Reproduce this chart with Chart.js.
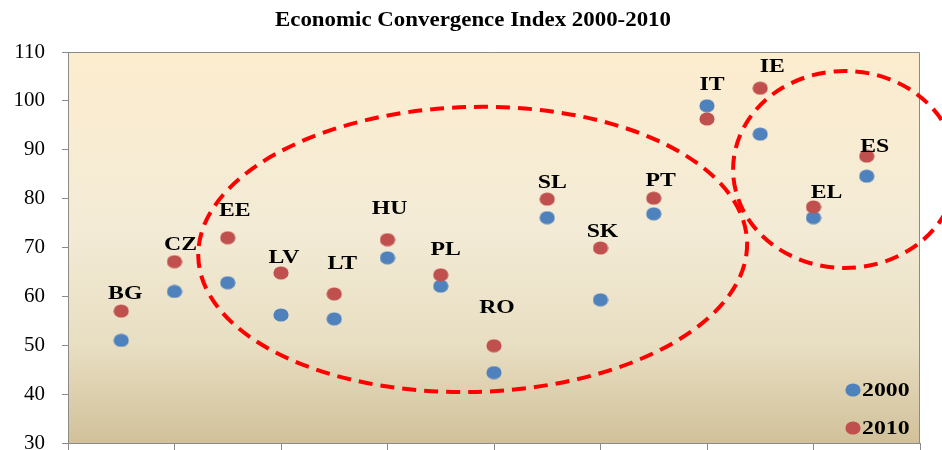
<!DOCTYPE html>
<html>
<head>
<meta charset="utf-8">
<script src="https://cdn.jsdelivr.net/npm/chart.js@4"></script>
<style>
  html, body { margin: 0; padding: 0; background: #fff; }
</style>
</head>
<body>
<canvas id="chart" width="942" height="450"></canvas>
<script>
/* ---------- DATA ---------- */
const countries  = ['BG', 'CZ', 'EE', 'LV', 'LT', 'HU', 'PL', 'RO', 'SL', 'SK', 'PT', 'IT', 'IE', 'EL', 'ES'];
const values2000 = [51.0, 61.0, 62.8, 56.2, 55.4, 67.9, 62.1, 44.4, 76.1, 59.3, 76.9, 99.0, 93.2, 76.1, 84.6];
const values2010 = [57.0, 67.1, 72.0, 64.8, 60.5, 71.6, 64.4, 49.9, 79.9, 69.9, 80.1, 96.3, 102.6, 78.3, 88.7];
const yTicks     = [30, 40, 50, 60, 70, 80, 90, 100, 110];
const seriesNames = ['2000', '2010'];
const chartTitle = 'Economic Convergence Index 2000-2010';

/* ---------- STYLE ---------- */
const BLUE = '#4F81BD';
const RED  = '#C0504D';
const AXIS = '#8a8a8a';
const SERIF = "'Liberation Serif', 'Times New Roman', serif";

// label nudges (px) relative to the 2010 marker
const labelShift = [
  [4, -17], [6, -17], [7, -27], [3, -15], [8, -30], [2, -31], [5, -25], [3, -38],
  [5, -16], [2, -16], [7, -17], [5, -34], [12, -21], [13, -14], [8, -9]
];

// dashed rings, in data units: cx, cy, rx, ry, rotation
const rings = [
  { cx: 7.6, cy: 69.6, rx: 5.155, ry: 29.16, rot: -1.5 },
  { cx: 14.59, cy: 85.96, rx: 2.10, ry: 20.15, rot: 0 }
];

function makeDot(color) {
  const c = document.createElement('canvas');
  c.width = 16; c.height = 14;
  const g = c.getContext('2d');
  g.fillStyle = color;
  g.beginPath();
  g.ellipse(8, 7, 7.6, 6.6, 0, 0, Math.PI * 2);
  g.fill();
  return c;
}
const dotBlue = makeDot(BLUE);
const dotRed  = makeDot(RED);

/* ---------- PLUGINS ---------- */
const backdrop = {
  id: 'backdrop',
  beforeDraw(chart) {
    const { ctx, chartArea: a } = chart;
    ctx.save();
    const grad = ctx.createLinearGradient(0, a.top, 0, a.bottom);
    grad.addColorStop(0, '#FDEDCF');
    grad.addColorStop(0.45, '#F3EBD6');
    grad.addColorStop(0.75, '#E8DEC2');
    grad.addColorStop(1, '#D1C19A');
    ctx.fillStyle = grad;
    ctx.fillRect(a.left, a.top, a.right - a.left, a.bottom - a.top);
    ctx.strokeStyle = AXIS;
    ctx.lineWidth = 1;
    ctx.beginPath();
    ctx.moveTo(a.left, a.top + 0.5);
    ctx.lineTo(a.right - 0.5, a.top + 0.5);
    ctx.lineTo(a.right - 0.5, a.bottom);
    ctx.stroke();

    // title
    ctx.font = 'bold 21px ' + SERIF;
    ctx.fillStyle = '#000';
    ctx.textBaseline = 'middle';
    ctx.textAlign = 'center';
    const w = ctx.measureText(chartTitle).width;
    const sx = 396 / w;
    ctx.translate(473, 21);
    ctx.scale(sx, 1);
    ctx.fillText(chartTitle, 0, 0);
    ctx.restore();
  }
};

const annotations = {
  id: 'annotations',
  afterDatasetsDraw(chart) {
    const { ctx } = chart;
    const xs = chart.scales.x, ys = chart.scales.y;
    ctx.save();

    // country labels
    ctx.font = 'bold 19px ' + SERIF;
    ctx.fillStyle = '#000';
    ctx.textAlign = 'center';
    ctx.textBaseline = 'middle';
    countries.forEach((c, i) => {
      const px = xs.getPixelForValue(i + 1) + labelShift[i][0];
      const py = ys.getPixelForValue(values2010[i]) + labelShift[i][1];
      ctx.save();
      ctx.translate(px, py);
      ctx.scale(1.25, 1);
      ctx.fillText(c, 0, 0);
      ctx.restore();
    });

    // dashed rings
    ctx.strokeStyle = '#FF0000';
    ctx.lineWidth = 4;
    ctx.setLineDash([14, 8]);
    rings.forEach(r => {
      const cx = xs.getPixelForValue(r.cx);
      const cy = ys.getPixelForValue(r.cy);
      const rx = xs.getPixelForValue(r.cx + r.rx) - cx;
      const ry = cy - ys.getPixelForValue(r.cy + r.ry);
      ctx.beginPath();
      ctx.ellipse(cx, cy, rx, ry, r.rot * Math.PI / 180, 0, Math.PI * 2);
      ctx.stroke();
    });
    ctx.setLineDash([]);

    // legend
    const items = [[seriesNames[0], dotBlue, 390], [seriesNames[1], dotRed, 428]];
    ctx.textAlign = 'left';
    items.forEach(([name, dot, y]) => {
      ctx.drawImage(dot, 853 - dot.width / 2, y - dot.height / 2);
      ctx.save();
      ctx.translate(862, y + 1);
      ctx.scale(1.25, 1);
      ctx.fillText(name, 0, 0);
      ctx.restore();
    });
    ctx.restore();
  }
};

/* ---------- CHART ---------- */
const toPoints = vals => vals.map((v, i) => ({ x: i + 1, y: v }));

new Chart(document.getElementById('chart'), {
  type: 'scatter',
  data: {
    datasets: [
      { label: seriesNames[1], data: toPoints(values2010), pointStyle: dotRed, backgroundColor: RED, borderColor: RED },
      { label: seriesNames[0], data: toPoints(values2000), pointStyle: dotBlue, backgroundColor: BLUE, borderColor: BLUE }
    ]
  },
  options: {
    responsive: false,
    animation: false,
    layout: { padding: { top: 52, right: 22, bottom: 0, left: 0 } },
    plugins: {
      legend: { display: false },
      title: { display: false },
      tooltip: { enabled: false }
    },
    scales: {
      x: {
        type: 'linear',
        min: 0, max: 16,
        ticks: { stepSize: 2, display: false },
        grid: { drawOnChartArea: false, drawTicks: true, tickLength: 7, color: AXIS },
        border: { color: AXIS },
        afterFit(scale) { scale.height = 7; scale.paddingLeft = 0; scale.paddingRight = 0; }
      },
      y: {
        min: yTicks[0], max: yTicks[yTicks.length - 1],
        afterBuildTicks(scale) { scale.ticks = yTicks.map(v => ({ value: v })); },
        ticks: { color: '#000', padding: 17, font: { family: SERIF, size: 21 } },
        grid: { drawOnChartArea: false, drawTicks: true, tickLength: 6, color: AXIS },
        border: { color: AXIS },
        afterFit(scale) { scale.width = 68; scale.paddingTop = 0; scale.paddingBottom = 0; }
      }
    }
  },
  plugins: [backdrop, annotations]
});
</script>
</body>
</html>
